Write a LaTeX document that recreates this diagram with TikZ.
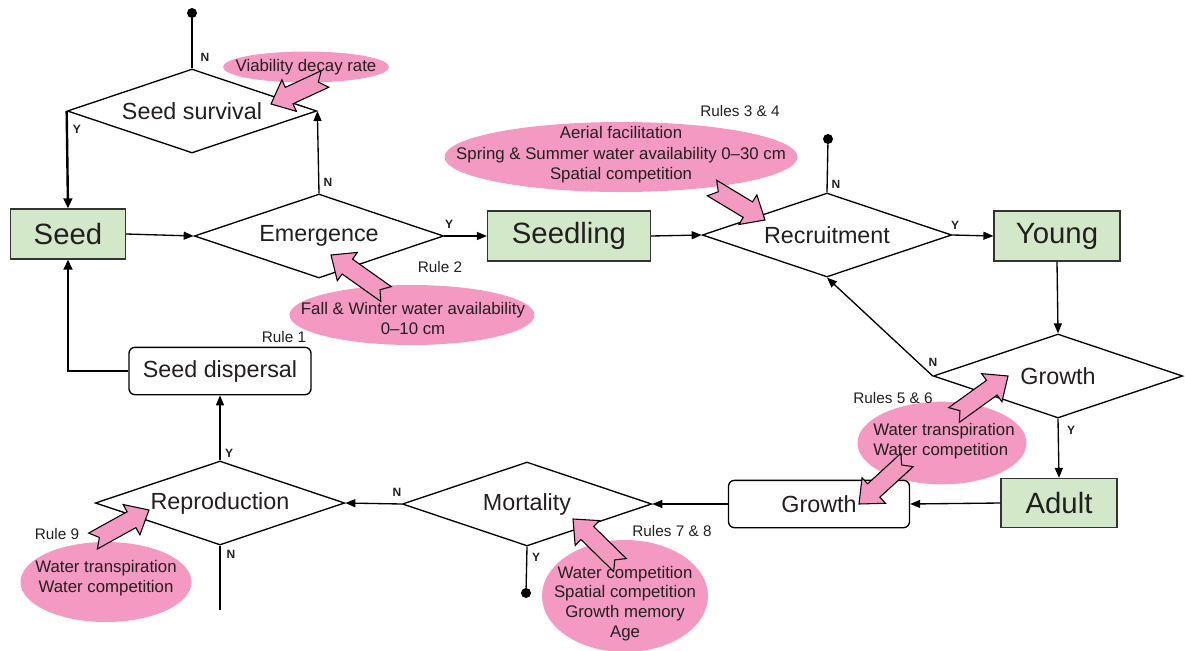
\documentclass[tikz,border=0pt]{standalone}
\usepackage{fontspec}
\setmainfont{Liberation Sans}
\usetikzlibrary{shapes.geometric,arrows.meta,calc}
\definecolor{boxgreen}{RGB}{211,232,201}
\definecolor{pinkf}{RGB}{243,153,194}
\definecolor{txt}{RGB}{35,31,32}
\newcommand\pinkarrow[2]{%
  \coordinate (pa-t) at (#1);
  \coordinate (pa-p) at (#2);
  \coordinate (pa-h) at ($(pa-p)!15pt!(pa-t)$);
  \draw[blockarrow]
    ($(pa-t)!6.8pt!90:(pa-p)$) -- ($(pa-h)!6.8pt!90:(pa-p)$) -- ($(pa-h)!13pt!90:(pa-p)$) --
    (pa-p) -- ($(pa-h)!13pt!-90:(pa-p)$) -- ($(pa-h)!6.8pt!-90:(pa-p)$) --
    ($(pa-t)!6.8pt!-90:(pa-p)$) -- ($(pa-t)!5.5pt!(pa-p)$) -- cycle;
}
\begin{document}
\begin{tikzpicture}[x=0.75pt,y=-0.75pt,
  diam/.style={diamond, draw=black, line width=1pt, fill=white, inner sep=0pt, aspect=2.9,
    minimum width=187pt, minimum height=63pt, font=\fontsize{17.5}{20}\selectfont, text=txt},
  state/.style={rectangle, draw=black!80, line width=0.9pt, fill=boxgreen, inner sep=0pt,
    minimum height=37.5pt, font=\fontsize{22}{26}\selectfont, text=txt},
  proc/.style={rectangle, rounded corners=4.5pt, draw=black, line width=1pt, fill=white, inner sep=0pt,
    minimum height=35.5pt, font=\fontsize{17.5}{20}\selectfont, text=txt},
  blob/.style={ellipse, fill=pinkf, draw=none, inner sep=0pt},
  etxt/.style={font=\fontsize{12.6}{14.8}\selectfont, text=txt, align=center, inner sep=0pt},
  rule/.style={font=\fontsize{11.5}{13}\selectfont, text=txt, inner sep=0pt},
  yn/.style={font=\bfseries\fontsize{9}{10}\selectfont, text=txt, inner sep=0pt},
  dot/.style={circle, fill=black, inner sep=0pt, minimum size=7.5pt},
  plain/.style={draw=black, line width=1pt},
  arr/.style={draw=black, line width=1pt, -{Triangle[length=7.5pt,width=6pt]}},
  thickarr/.style={draw=black, line width=1.8pt, -{Triangle[length=7.5pt,width=6.5pt]}},
  blockarrow/.style={fill=pinkf, draw=black, line width=0.8pt, line join=miter}
]
\useasboundingbox (0,0) rectangle (1185,650);

% pink ellipses
\node[blob, minimum width=124.5pt, minimum height=23.25pt] (e1) at (306,67) {};
\node[blob, minimum width=264.75pt, minimum height=52.5pt] (e2) at (621,157) {};
\node[blob, minimum width=183.75pt, minimum height=45pt] (e3) at (412,315) {};
\node[blob, minimum width=126.75pt, minimum height=62pt] (e4) at (942,443) {};
\node[blob, minimum width=124.5pt, minimum height=84pt] (e5) at (625,596) {};
\node[blob, minimum width=128.25pt, minimum height=60pt] (e6) at (106,582) {};

% decision diamonds
\node[diam] (surv) at (192,111) {Seed survival};
\node[diam] (emer) at (319,236) {Emergence};
\node[diam] (recr) at (827,235) {Recruitment};
\node[diam] (grow) at (1058,376) {Growth};
\node[diam] (mort) at (527,504) {Mortality};
\node[diam] (repr) at (220,503) {Reproduction};

% state boxes
\node[state, minimum width=86.25pt] (seed) at (68,234) {Seed};
\node[state, minimum width=122.25pt] (seedl) at (569,236) {Seedling};
\node[state, minimum width=94.5pt] (young) at (1057,236) {Young};
\node[state, minimum width=87pt, minimum height=36.75pt] (adult) at (1059,503) {Adult};
\node[proc, minimum width=135.75pt] (gbox) at (819,504) {Growth};
\node[proc, minimum width=136.5pt] (disp) at (220,371) {Seed dispersal};

% terminals
\node[dot] (d1) at (192,13) {};
\node[dot] (d2) at (828,139) {};
\node[dot] (d3) at (526,593) {};
\coordinate (rend) at (220,610);

% connectors
\draw[plain] (d1) -- (surv.north);
\draw[thickarr] (surv.west) -- (seed.north);
\draw[arr] (seed.east) -- (emer.west);
\draw[arr] (emer.north) -- (surv.east);
\draw[arr] (emer.east) -- (seedl.west);
\draw[arr] (seedl.east) -- (recr.west);
\draw[plain] (recr.north) -- (d2);
\draw[arr] (recr.east) -- (young.west);
\draw[arr] (young.south) -- (grow.north);
\draw[arr] (grow.west) -- (recr.south);
\draw[arr] (grow.south) -- (adult.north);
\draw[arr] (adult.west) -- (gbox.east);
\draw[arr] (gbox.west) -- (mort.east);
\draw[arr] (mort.west) -- (repr.east);
\draw[plain] (mort.south) -- (d3);
\draw[arr] (repr.north) -- (disp.south);
\draw[plain] (repr.south) -- (rend);
\draw[thickarr] (disp.west) -| (seed.south);

% Y / N labels
\node[yn] (n1) at (205,57) {N};
\node[yn] (y1) at (77,129) {Y};
\node[yn] (n2) at (328,182) {N};
\node[yn] (y2) at (449,224) {Y};
\node[yn] (n3) at (836,184) {N};
\node[yn] (y3) at (955,225) {Y};
\node[yn] (n4) at (933,362) {N};
\node[yn] (y4) at (1071,430) {Y};
\node[yn] (y5) at (229,453) {Y};
\node[yn] (n5) at (231,554) {N};
\node[yn] (n6) at (397,492) {N};
\node[yn] (y6) at (536,557) {Y};

% rule labels
\node[rule] (r1) at (284,337) {Rule 1};
\node[rule] (r2) at (440,267) {Rule 2};
\node[rule] (r34) at (740,111) {Rules 3 \& 4};
\node[rule] (r56) at (893,398) {Rules 5 \& 6};
\node[rule] (r78) at (672,531) {Rules 7 \& 8};
\node[rule] (r9) at (57,534) {Rule 9};

% ellipse texts
\node[etxt] (t1) at (306,67) {Viability decay rate};
\node[etxt, font=\fontsize{12.6}{15.3}\selectfont] (t2) at (621,155) {Aerial facilitation\\Spring \& Summer water availability 0--30 cm\\Spatial competition};
\node[etxt] (t3) at (413,318.5) {Fall \& Winter water availability\\0--10 cm};
\node[etxt, align=left] (t4) at (944,441.5) {Water transpiration\\Water competition};
\node[etxt] (t5) at (625,603.5) {Water competition\\Spatial competition\\Growth memory\\Age};
\node[etxt] (t6) at (106,578.5) {Water transpiration\\Water competition};

% pink influence arrows
\pinkarrow{325,79}{271,104}
\pinkarrow{386,294}{331,255}
\pinkarrow{712,188}{765,220}
\pinkarrow{954,415}{1008,376}
\pinkarrow{907,460}{859,504}
\pinkarrow{620,565}{573,519}
\pinkarrow{93,541}{149,510}
\end{tikzpicture}
\end{document}
